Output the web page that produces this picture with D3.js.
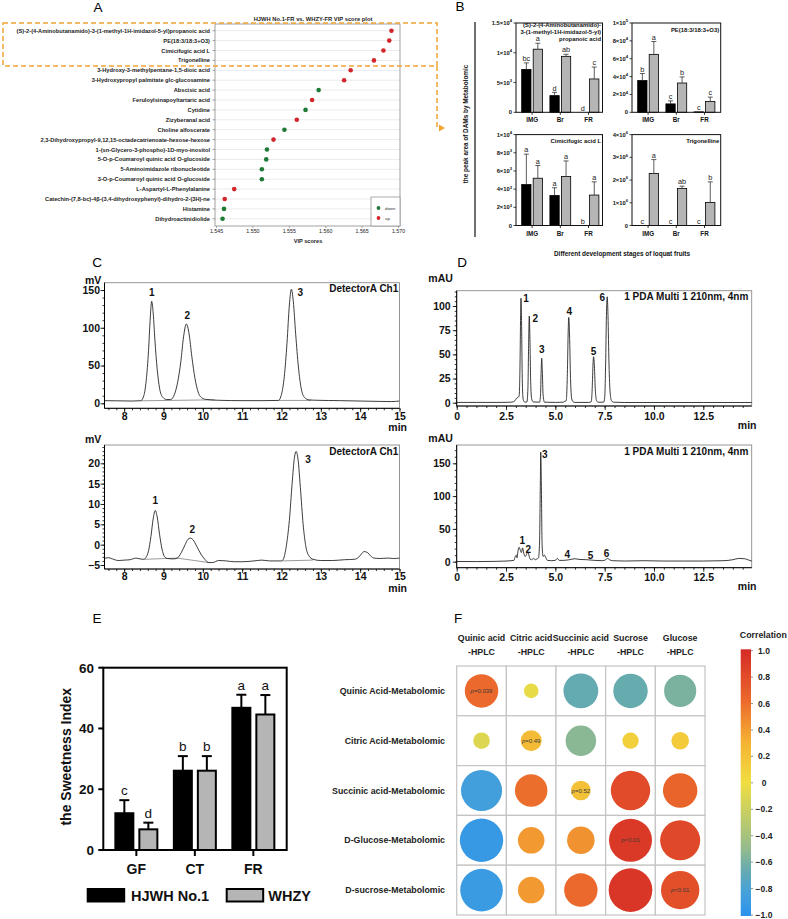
<!DOCTYPE html>
<html><head><meta charset="utf-8">
<script src="https://cdn.jsdelivr.net/npm/d3@7"></script>
<style>
body{margin:0;background:#fff}
svg{display:block}
text{font-family:"Liberation Sans",Arial,Helvetica,sans-serif}
</style>
</head><body>
<svg id="c" width="788" height="919"></svg>
<script>
// ================= DATA =================
// Panel A: VIP score plot
const vipNames = ["(S)-2-(4-Aminobutanamido)-3-(1-methyl-1H-imidazol-5-yl)propanoic acid","PE(18:3/18:3+O3)","Cimicifugic acid L","Trigonelline","3-Hydroxy-3-methylpentane-1,5-dioic acid","3-Hydroxypropyl palmitate glc-glucosamine","Abscisic acid","Feruloylsinapoyltartaric acid","Cytidine","Zizyberanal acid","Choline alfoscerate","2,3-Dihydroxypropyl-9,12,15-octadecatrienoate-hexose-hexose","1-(sn-Glycero-3-phospho)-1D-myo-inositol","5-O-p-Coumaroyl quinic acid O-glucoside","5-Aminoimidazole ribonucleotide","3-O-p-Coumaroyl quinic acid O-glucoside","L-Aspartyl-L-Phenylalanine","Catechin-(7,8-bc)-4β-(3,4-dihydroxyphenyl)-dihydro-2-(3H)-ne","Histamine","Dihydroactinidiolide"];
const vipScores = [1.5691,1.5688,1.5680,1.5667,1.5635,1.5626,1.5591,1.5582,1.5573,1.5561,1.5544,1.5529,1.5520,1.5519,1.5513,1.5513,1.5475,1.5462,1.5461,1.5459];
const vipRegulation = ["up","up","up","up","up","up","down","up","down","up","down","up","down","down","down","down","up","up","down","down"];
const vipTicks = [1.545,1.550,1.555,1.560,1.565,1.570];
const vipTitle = "HJWH No.1-FR vs. WHZY-FR VIP score plot";

// Panel B: peak areas
const bStages = ["IMG","Br","FR"];
const bTitles = [["(S)-2-(4-Aminobutanamido)-","3-(1-methyl-1H-imidazol-5-yl)","propanoic acid"],["PE(18:3/18:3+O3)"],["Cimicifugic acid L"],["Trigonelline"]];
const bHJWHMean = [[7200,2800,0],[35500,9400,500],[4500,3300,0],[0,0,0]];
const bHJWHErr  = [[1100,550,0],[7900,3400,0],[3350,850,0],[0,0,0]];
const bWHZYMean = [[10600,9400,5600],[64900,32800,12000],[5200,5400,3350],[2290000,1630000,1010000]];
const bWHZYErr  = [[1000,350,2000],[14400,6800,5000],[1400,1700,1450],[610000,100000,910000]];
const bHJWHLetters = [["bc","d","d"],["b","c","c"],["a","a","b"],["c","c","c"]];
const bWHZYLetters = [["a","ab","c"],["a","b","c"],["a","a","a"],["a","ab","b"]];
const bTickValues = [[0,5000,10000,15000],[0,20000,40000,60000,80000,100000],[0,2000,4000,6000,8000,10000],[0,1e6,2e6,3e6,4e6]];
const bTickLabels = [["0","5×10^3","1×10^4","1.5×10^4"],["0","2×10^4","4×10^4","6×10^4","8×10^4","1×10^5"],["0","2×10^3","4×10^3","6×10^3","8×10^3","1×10^4"],["0","1×10^6","2×10^6","3×10^6","4×10^6"]];
const bYLabel = "the peak area of DAMs by Metabolomic";
const bXLabel = "Different development stages of  loquat fruits";

// Panel C: HPLC chromatograms (mV vs min)
const cTopTrace = [[7.5,3.5],[7.8,3.3],[8.2,3.0],[8.42,3.4],[8.5,10],[8.56,30],[8.62,70],[8.66,110],[8.70,135],[8.74,118],[8.78,85],[8.84,45],[8.90,20],[8.98,8],[9.08,5],[9.18,5],[9.28,12],[9.36,28],[9.44,55],[9.51,88],[9.58,105],[9.65,92],[9.72,62],[9.80,33],[9.88,15],[9.98,7],[10.1,5],[10.4,4],[11.0,3.5],[11.5,3.5],[11.92,3.8],[12.0,12],[12.07,35],[12.14,80],[12.20,130],[12.25,151],[12.30,135],[12.36,92],[12.43,48],[12.50,20],[12.58,8],[12.7,4.5],[12.9,4],[13.5,3.5],[14.0,3],[14.5,2.5],[14.8,2.3],[15.0,3]];
const cTopBaselines = [[[8.42,3.3],[10.3,4.6]],[[11.92,3.8],[12.75,3.8]]];
const cTopPeakTimes = [8.70,9.58,12.25];
const cBotTrace = [[7.5,-3.4],[7.6,-3.2],[7.7,-3.5],[7.85,-3.9],[8.0,-3.8],[8.15,-3.7],[8.3,-3.3],[8.4,-3.5],[8.5,-3.6],[8.55,-3.2],[8.62,-1.5],[8.68,2],[8.74,6.5],[8.79,8.4],[8.84,6.8],[8.90,2.5],[8.96,-1],[9.03,-3],[9.1,-3.4],[9.25,-3.5],[9.35,-3.3],[9.45,-2],[9.55,0],[9.62,1.3],[9.68,1.6],[9.75,1.2],[9.85,-0.5],[9.95,-2.3],[10.05,-3.6],[10.15,-4.4],[10.25,-4.4],[10.4,-3.9],[10.6,-4.0],[10.8,-4.2],[11.0,-4.2],[11.3,-4.0],[11.5,-3.8],[11.7,-4.0],[12.0,-4.0],[12.05,-3.5],[12.12,-0.5],[12.2,6],[12.27,15],[12.33,21.5],[12.37,22.9],[12.42,21],[12.48,14],[12.55,5],[12.62,-0.5],[12.7,-2.8],[12.8,-3.6],[13.0,-3.9],[13.3,-3.9],[13.6,-3.7],[13.85,-3.6],[13.95,-3.2],[14.03,-2.3],[14.1,-1.7],[14.18,-1.9],[14.27,-2.8],[14.35,-3.3],[14.5,-3.4],[14.7,-3.3],[14.85,-3.4],[15.0,-3.3]];
const cBotBaselines = [[[8.52,-3.6],[9.35,-3.3],[10.15,-4.4]],[[12.02,-4.0],[12.8,-3.8]]];
const cBotPeakTimes = [8.79,9.68,12.37];
const cPeakNames = ["1","2","3"];
const cXTicks = [8,9,10,11,12,13,14,15];
const cTopYTicks = [0,50,100,150];
const cBotYTicks = [-5,0,5,10,15,20];

// Panel D: HPLC chromatograms (mAU vs min)
const dTopTrace = [[0,0.3],[1,0.3],[2,0.3],[2.6,0.4],[2.8,0.6],[2.95,2],[3.05,5],[3.12,5.5],[3.17,8],[3.21,40],[3.24,90],[3.26,108],[3.29,80],[3.32,30],[3.36,5],[3.42,1],[3.5,0.5],[3.56,0.8],[3.61,15],[3.65,65],[3.68,89.6],[3.71,68],[3.75,22],[3.8,4],[3.88,0.8],[4.2,0.5],[4.25,8],[4.28,32],[4.31,45.9],[4.34,33],[4.38,8],[4.45,0.5],[5.0,0.3],[5.4,0.5],[5.48,1.5],[5.55,2],[5.61,30],[5.65,72],[5.68,88.2],[5.72,70],[5.77,25],[5.83,4],[5.9,1],[6.0,0.3],[6.7,0.3],[6.82,1],[6.87,15],[6.91,40],[6.94,47.5],[6.98,38],[7.03,12],[7.1,1.5],[7.2,0.5],[7.45,0.5],[7.5,5],[7.55,40],[7.59,90],[7.63,109.5],[7.67,90],[7.72,40],[7.78,10],[7.85,2],[7.95,0.5],[8.5,0.2],[10,0.2],[12.5,0.2],[15,0.2]];
const dTopLabelTimes = [3.26,3.68,4.31,5.68,6.94,7.63];
const dBotTrace = [[0,0.3],[1.0,0.2],[2.0,0.5],[2.5,1],[2.9,2],[2.97,8],[3.02,10],[3.06,6],[3.1,15],[3.16,22],[3.22,18],[3.28,14],[3.34,21],[3.4,13],[3.47,8],[3.54,11],[3.6,15],[3.66,10],[3.72,4],[3.8,3],[3.9,5],[3.98,3],[4.05,4],[4.15,6],[4.2,30],[4.24,120],[4.26,167],[4.29,120],[4.33,25],[4.38,8],[4.45,10],[4.52,6],[4.6,2],[4.8,1.5],[5.0,2],[5.1,5],[5.2,2],[5.4,2],[5.7,3],[6.0,4.5],[6.2,3.5],[6.6,3],[7.0,2],[7.4,1.5],[7.55,3],[7.65,5],[7.75,3],[7.9,1.5],[8.5,1],[9.5,1.5],[10.5,1],[11.5,1],[12.5,1],[13.5,1.5],[14.0,3],[14.3,5],[14.6,4.5],[14.8,2.5],[15.0,0.5]];
const dBotLabelTimes = [3.32,3.63,4.26,5.6,6.79,7.6];
const dPeakNames = ["1","2","3","4","5","6"];
const dXTicks = [0,2.5,5,7.5,10,12.5];
const dTopYTicks = [0,25,50,75,100];
const dBotYTicks = [0,50,100,150];

// Panel E: sweetness index
const eStages = ["GF","CT","FR"];
const eHJWH = [12.1,26.1,46.8];
const eHJWHErr = [4.3,4.8,4.3];
const eWHZY = [6.8,26.1,44.6];
const eWHZYErr = [2.2,4.8,6.4];
const eHJWHLetters = ["c","b","a"];
const eWHZYLetters = ["d","b","a"];
const eYTicks = [0,20,40,60];
const eSeries = ["HJWH No.1","WHZY"];

// Panel F: correlation
const fColNames = ["Quinic acid","Citric acid","Succinic acid","Sucrose","Glucose"];
const fRowNames = ["Quinic Acid-Metabolomic","Citric Acid-Metabolomic","Succinic acid-Metabolomic","D-Glucose-Metabolomic","D-sucrose-Metabolomic"];
const fCorr = [[0.62,-0.05,-0.66,-0.65,-0.58],[-0.11,0.24,-0.53,0.1,0.14],[-0.85,0.59,0.2,0.8,0.65],[-0.92,0.41,0.44,0.91,0.82],[-0.9,0.41,0.62,0.93,0.77]];
const fPText = [["p=0.039","","","",""],["","p=0.49","","",""],["","","p=0.52","",""],["","","","p<0.01",""],["","","","","p<0.01"]];
const fColorTicks = [1.0,0.8,0.6,0.4,0.2,0,-0.2,-0.4,-0.6,-0.8,-1.0];

// ================= DRAWING =================
const svg = d3.select("#c");
const defs = svg.append("defs");

function T(g, x, y, s, o = {}) {
  const t = g.append("text").attr("x", x).attr("y", y).text(s)
    .attr("font-size", o.size || 10)
    .attr("font-weight", o.bold ? "bold" : "normal")
    .attr("text-anchor", o.anchor || "start")
    .attr("fill", o.fill || "#000");
  if (o.italic) t.attr("font-style", "italic");
  if (o.rotate) t.attr("transform", `rotate(${o.rotate},${x},${y})`);
  return t;
}
function supText(g, x, y, s, size, anchor) {
  const t = g.append("text").attr("x", x).attr("y", y).attr("font-size", size)
    .attr("font-weight", "bold").attr("text-anchor", anchor).attr("fill", "#111");
  const p = s.split("^");
  t.append("tspan").text(p[0]);
  if (p[1]) t.append("tspan").attr("dy", -size * 0.45).attr("font-size", size * 0.72).text(p[1]);
  return t;
}

// panel letters
[["A",98,12],["B",460,11],["C",97,267],["D",462,267],["E",97,623],["F",458,623]].forEach(d =>
  T(svg, d[1], d[2], d[0], {size: 13.5, anchor: "middle"}));

// ---------- Panel A ----------
{
  const g = svg.append("g");
  const x = d3.scaleLinear().domain([1.545, 1.570]).range([216, 398]);
  const y = d3.scalePoint().domain(vipNames).range([30.7, 218.8]);
  const L = 215, R = 400, Tp = 24, B = 226;
  g.selectAll("line.grid").data(vipNames).join("line").attr("class", "grid")
    .attr("x1", L).attr("x2", R).attr("y1", d => y(d)).attr("y2", d => y(d))
    .attr("stroke", "#e2e2e2").attr("stroke-width", 0.7);
  g.append("rect").attr("x", L).attr("y", Tp).attr("width", R - L).attr("height", B - Tp)
    .attr("fill", "none").attr("stroke", "#8a8a8a").attr("stroke-width", 0.8);
  g.selectAll("line.tk").data(vipNames).join("line").attr("class", "tk")
    .attr("x1", L - 2.5).attr("x2", L).attr("y1", d => y(d)).attr("y2", d => y(d))
    .attr("stroke", "#666").attr("stroke-width", 0.6);
  g.selectAll("text.lab").data(vipNames).join("text").attr("class", "lab")
    .attr("x", L - 5).attr("y", d => y(d) + 2).attr("text-anchor", "end")
    .attr("font-size", 5.7).attr("font-weight", "bold").attr("fill", "#222").text(d => d);
  g.selectAll("circle").data(vipNames).join("circle")
    .attr("cx", (d, i) => x(vipScores[i])).attr("cy", d => y(d)).attr("r", 2.3)
    .attr("fill", (d, i) => vipRegulation[i] === "up" ? "#d3262c" : "#1e7a36");
  const ax = g.append("g").attr("transform", `translate(0,${B})`)
    .call(d3.axisBottom(x).tickValues(vipTicks).tickFormat(d3.format(".3f")).tickSize(2).tickSizeOuter(0).tickPadding(1.5));
  ax.select(".domain").remove();
  ax.selectAll("line").attr("stroke", "#777").attr("stroke-width", 0.6);
  ax.selectAll("text").attr("font-size", 5.3).attr("font-family", null).attr("fill", "#222");
  T(g, 308, 242.5, "VIP scores", {size: 5.6, bold: true, anchor: "middle", fill: "#222"});
  T(g, 313, 21, vipTitle, {size: 5.8, bold: true, anchor: "middle", fill: "#222"});
  // legend
  g.append("rect").attr("x", 371).attr("y", 197).attr("width", 29).attr("height", 29)
    .attr("fill", "#fff").attr("stroke", "#888").attr("stroke-width", 0.7);
  [["down", "#1e7a36", 208], ["up", "#d3262c", 218]].forEach(d => {
    g.append("circle").attr("cx", 378.5).attr("cy", d[2]).attr("r", 1.9).attr("fill", d[1]);
    T(g, 385, d[2] + 1.5, d[0], {size: 4.3, fill: "#333"});
  });
  // orange highlight
  const orange = "#f2a432";
  g.append("rect").attr("x", 3).attr("y", 23).attr("width", 434).attr("height", 43)
    .attr("fill", "none").attr("stroke", orange).attr("stroke-width", 1.5).attr("stroke-dasharray", "5,3");
  g.append("path").attr("d", "M437,66 V128 H440").attr("fill", "none")
    .attr("stroke", orange).attr("stroke-width", 1.5).attr("stroke-dasharray", "5,3");
  g.append("path").attr("d", "M439,124.5 L445,128 L439,131.5 Z").attr("fill", orange);
}

// ---------- Panel B ----------
{
  const g = svg.append("g");
  const frames = [
    {L: 516, R: 602.5, y0: 112.3, yTop: 23},
    {L: 632, R: 720.7, y0: 112.3, yTop: 23},
    {L: 516, R: 602.5, y0: 225.5, yTop: 134.6},
    {L: 632, R: 720.7, y0: 225.5, yTop: 134.6}
  ];
  g.append("line").attr("x1", 475).attr("x2", 475).attr("y1", 22).attr("y2", 237)
    .attr("stroke", "#111").attr("stroke-width", 1.2);
  T(g, 467.6, 124, bYLabel, {size: 6.4, bold: true, anchor: "middle", rotate: -90, fill: "#111"});
  T(g, 622, 255.5, bXLabel, {size: 6.4, bold: true, anchor: "middle", fill: "#111"});
  frames.forEach((f, k) => {
    const ticks = bTickValues[k];
    const y = d3.scaleLinear().domain([0, ticks[ticks.length - 1]]).range([f.y0, f.yTop]);
    const x = d3.scaleBand().domain(bStages).range([f.L + 2, f.L + 2 + 3 * 28.2]);
    const bw = 9.3;
    // titles
    const tl = bTitles[k];
    const startY = tl.length > 1 ? f.yTop + 3.6 : f.yTop + (k < 2 ? 8.8 : 8.2);
    tl.forEach((line, j) => T(g, f.R - 1.5, startY + j * 7.0, line, {size: 5.9, bold: true, anchor: "end", fill: "#111"}));
    // bars
    bStages.forEach((s, i) => {
      const c = x(s) + x.bandwidth() / 2;
      const series = [
        {m: bHJWHMean[k][i], e: bHJWHErr[k][i], l: bHJWHLetters[k][i], x0: c - 1.1 - bw, fill: "#000"},
        {m: bWHZYMean[k][i], e: bWHZYErr[k][i], l: bWHZYLetters[k][i], x0: c + 1.1, fill: "#b5b5b5"}
      ];
      series.forEach(sr => {
        if (sr.m > 0) {
          g.append("rect").attr("x", sr.x0).attr("y", y(sr.m)).attr("width", bw)
            .attr("height", f.y0 - y(sr.m)).attr("fill", sr.fill).attr("stroke", "#000").attr("stroke-width", 0.8);
        }
        const bc = sr.x0 + bw / 2;
        if (sr.e > 0) {
          g.append("line").attr("x1", bc).attr("x2", bc).attr("y1", y(sr.m)).attr("y2", y(sr.m + sr.e))
            .attr("stroke", "#333").attr("stroke-width", 0.8);
          g.append("line").attr("x1", bc - 2.5).attr("x2", bc + 2.5).attr("y1", y(sr.m + sr.e)).attr("y2", y(sr.m + sr.e))
            .attr("stroke", "#333").attr("stroke-width", 0.8);
        }
        T(g, bc, y(sr.m + sr.e) - 1.8, sr.l, {size: 7.3, anchor: "middle", fill: "#222"});
      });
      g.append("line").attr("x1", c).attr("x2", c).attr("y1", f.y0).attr("y2", f.y0 + 2.5)
        .attr("stroke", "#000").attr("stroke-width", 0.8);
      T(g, c, f.y0 + 10, s, {size: 6.3, bold: true, anchor: "middle", fill: "#111"});
    });
    // frame
    g.append("rect").attr("x", f.L).attr("y", f.yTop).attr("width", f.R - f.L).attr("height", f.y0 - f.yTop)
      .attr("fill", "none").attr("stroke", "#111").attr("stroke-width", 1);
    // y ticks
    ticks.forEach((v, i) => {
      g.append("line").attr("x1", f.L - 2.5).attr("x2", f.L).attr("y1", y(v)).attr("y2", y(v))
        .attr("stroke", "#111").attr("stroke-width", 0.8);
      supText(g, f.L - 4, y(v) + 2, bTickLabels[k][i], 5.8, "end");
    });
  });
}

// ---------- Chromatograms (C, D) ----------
function valueAt(trace, t) {
  for (let i = 1; i < trace.length; i++) {
    if (trace[i][0] >= t) {
      const a = trace[i - 1], b = trace[i];
      return a[1] + (b[1] - a[1]) * (t - a[0]) / (b[0] - a[0]);
    }
  }
  return trace[trace.length - 1][1];
}
function chrom(cfg) {
  const g = svg.append("g");
  const x = d3.scaleLinear().domain(cfg.xd).range(cfg.xr);
  const y = d3.scaleLinear().domain(cfg.yd).range(cfg.yr);
  const {L, R, Tp, B} = cfg.frame;
  defs.append("clipPath").attr("id", cfg.id).append("rect")
    .attr("x", L).attr("y", Tp).attr("width", R - L).attr("height", B - Tp);
  g.append("rect").attr("x", L).attr("y", Tp).attr("width", R - L).attr("height", B - Tp)
    .attr("fill", "none").attr("stroke", "#8a8a8a").attr("stroke-width", 0.9);
  const line = d3.line().x(d => x(d[0])).y(d => y(d[1])).curve(d3.curveMonotoneX);
  const lineL = d3.line().x(d => x(d[0])).y(d => y(d[1]));
  (cfg.baselines || []).forEach(seg => g.append("path").attr("d", lineL(seg)).attr("fill", "none")
    .attr("stroke", "#555").attr("stroke-width", 0.6).attr("clip-path", `url(#${cfg.id})`));
  g.append("path").attr("d", line(cfg.trace)).attr("fill", "none").attr("stroke", "#1a1a1a")
    .attr("stroke-width", 0.85).attr("clip-path", `url(#${cfg.id})`);
  // axes lines
  g.append("line").attr("x1", L).attr("x2", L).attr("y1", Tp).attr("y2", B).attr("stroke", "#000").attr("stroke-width", 1);
  g.append("line").attr("x1", L).attr("x2", R).attr("y1", B).attr("y2", B).attr("stroke", "#000").attr("stroke-width", 1);
  const gx = g.append("g").attr("transform", `translate(0,${B})`)
    .call(d3.axisBottom(x).tickValues(cfg.xt).tickFormat(cfg.xf).tickSize(4).tickSizeOuter(0).tickPadding(cfg.xPad));
  const gxm = g.append("g").attr("transform", `translate(0,${B})`)
    .call(d3.axisBottom(x).tickValues(cfg.xMinor).tickFormat("").tickSize(2).tickSizeOuter(0));
  const gy = g.append("g").attr("transform", `translate(${L},0)`)
    .call(d3.axisLeft(y).tickValues(cfg.yt).tickFormat(d3.format("d")).tickSize(4).tickSizeOuter(0).tickPadding(cfg.yPad));
  const gym = g.append("g").attr("transform", `translate(${L},0)`)
    .call(d3.axisLeft(y).tickValues(cfg.yMinor).tickFormat("").tickSize(2).tickSizeOuter(0));
  [gx, gxm, gy, gym].forEach(a => {
    a.select(".domain").remove();
    a.selectAll("line").attr("stroke", "#000").attr("stroke-width", 0.8);
    a.selectAll("text").attr("font-size", 10.5).attr("font-weight", "bold").attr("font-family", null).attr("fill", "#111");
  });
  T(g, cfg.unit[1], cfg.unit[2], cfg.unit[0], {size: 10.5, bold: true, fill: "#111"});
  T(g, cfg.minX, B + 22.5, "min", {size: 10.5, bold: true, anchor: "end", fill: "#111"});
  T(g, cfg.titleX, Tp + 9.5, cfg.title, {size: 10, bold: true, anchor: "end", fill: "#111"});
  cfg.labelTimes.forEach((t, i) => {
    const v = valueAt(cfg.trace, t);
    T(g, x(t) + cfg.lab[i][0], y(v) + cfg.lab[i][1], cfg.names[i], {size: 10, bold: true, anchor: "middle", fill: "#111"});
  });
}
const range = (a, b, s) => d3.range(Math.round((b - a) / s) + 1).map(i => +(a + i * s).toFixed(3));
chrom({id: "cTop", xd: [7.5, 15], xr: [104.5, 399.5], yd: [0, 150], yr: [403.3, 290],
  frame: {L: 104.5, R: 399.5, Tp: 282.7, B: 408.3}, trace: cTopTrace, baselines: cTopBaselines,
  xt: cXTicks, xf: d3.format("d"), xMinor: range(7.6, 15, 0.2), xPad: 0,
  yt: cTopYTicks, yMinor: range(-0, 150, 10), yPad: 0.5,
  unit: ["mV", 85, 283.5], minX: 407, titleX: 398.3, title: "DetectorA Ch1",
  labelTimes: cTopPeakTimes, names: cPeakNames, lab: [[0, -5.5], [1, -4.5], [9, 7]]});
chrom({id: "cBot", xd: [7.5, 15], xr: [104.5, 399.5], yd: [-5, 20], yr: [565, 463.3],
  frame: {L: 104.5, R: 399.5, Tp: 445, B: 569}, trace: cBotTrace, baselines: cBotBaselines,
  xt: cXTicks, xf: d3.format("d"), xMinor: range(7.6, 15, 0.2), xPad: 0,
  yt: cBotYTicks, yMinor: range(-5, 24, 1), yPad: 0.5,
  unit: ["mV", 85, 442.5], minX: 407, titleX: 398.3, title: "DetectorA Ch1",
  labelTimes: cBotPeakTimes, names: cPeakNames, lab: [[0, -6.3], [2, -5], [12, 11.5]]});
chrom({id: "dTop", xd: [0, 15], xr: [456.7, 752.6], yd: [0, 100], yr: [402.7, 306],
  frame: {L: 456.7, R: 751.7, Tp: 290.7, B: 406}, trace: dTopTrace,
  xt: dXTicks, xf: d => d === 0 ? "0" : d3.format(".1f")(d), xMinor: range(0, 14.5, 0.5), xPad: 2.5,
  yt: dTopYTicks, yMinor: range(0, 115, 5), yPad: 2,
  unit: ["mAU", 428.3, 282], minX: 756.5, titleX: 748.3, title: "1 PDA Multi 1 210nm, 4nm",
  labelTimes: dTopLabelTimes, names: dPeakNames, lab: [[5, 4], [6, 6], [0, -5], [0.5, -2], [0, -2], [-5, 4]]});
chrom({id: "dBot", xd: [0, 15], xr: [456.7, 752.6], yd: [0, 150], yr: [561.7, 463.3],
  frame: {L: 456.7, R: 751.7, Tp: 445, B: 567.7}, trace: dBotTrace,
  xt: dXTicks, xf: d => d === 0 ? "0" : d3.format(".1f")(d), xMinor: range(0, 14.5, 0.5), xPad: 1.5,
  yt: dBotYTicks, yMinor: range(0, 170, 10), yPad: 2,
  unit: ["mAU", 428.3, 442], minX: 756.5, titleX: 748.3, title: "1 PDA Multi 1 210nm, 4nm",
  labelTimes: dBotLabelTimes, names: dPeakNames, lab: [[0, -5], [0, -1], [4, 5.5], [0, -1.5], [0, -1.5], [0, -2]]});

// ---------- Panel E ----------
{
  const g = svg.append("g");
  const L = 103.3, R = 286.7;
  const y = d3.scaleLinear().domain([0, 60]).range([850, 667.7]);
  const x = d3.scaleBand().domain(eStages).range([107.1, 282.6]);
  eStages.forEach((s, i) => {
    const c = x(s) + x.bandwidth() / 2;
    const sr = [
      {m: eHJWH[i], e: eHJWHErr[i], l: eHJWHLetters[i], x0: c - 21, fill: "#000"},
      {m: eWHZY[i], e: eWHZYErr[i], l: eWHZYLetters[i], x0: c + 3, fill: "#b5b5b5"}
    ];
    sr.forEach(d => {
      const bc = d.x0 + 9;
      g.append("line").attr("x1", bc).attr("x2", bc).attr("y1", y(d.m)).attr("y2", y(d.m + d.e)).attr("stroke", "#000").attr("stroke-width", 2);
      g.append("line").attr("x1", bc - 5).attr("x2", bc + 5).attr("y1", y(d.m + d.e)).attr("y2", y(d.m + d.e)).attr("stroke", "#000").attr("stroke-width", 2);
      g.append("rect").attr("x", d.x0).attr("y", y(d.m)).attr("width", 18).attr("height", 850 - y(d.m))
        .attr("fill", d.fill).attr("stroke", "#000").attr("stroke-width", 2);
      T(g, bc, y(d.m + d.e) - 5, d.l, {size: 13.5, anchor: "middle", fill: "#111"});
    });
    g.append("line").attr("x1", c).attr("x2", c).attr("y1", 850).attr("y2", 856).attr("stroke", "#000").attr("stroke-width", 2);
    T(g, c, 873.5, s, {size: 14, bold: true, anchor: "middle", fill: "#111"});
  });
  g.append("rect").attr("x", L).attr("y", 667.7).attr("width", R - L).attr("height", 850 - 667.7)
    .attr("fill", "none").attr("stroke", "#000").attr("stroke-width", 2);
  eYTicks.forEach(v => {
    g.append("line").attr("x1", L - 5).attr("x2", L).attr("y1", y(v)).attr("y2", y(v)).attr("stroke", "#000").attr("stroke-width", 2);
    T(g, 94, y(v) + 4.8, String(v), {size: 13.5, bold: true, anchor: "end", fill: "#111"});
  });
  T(g, 70.7, 756.7, "the Sweetness Index", {size: 14, bold: true, anchor: "middle", rotate: -90, fill: "#111"});
  [[87.7, "#000", 131, eSeries[0]], [226.7, "#b5b5b5", 268.3, eSeries[1]]].forEach(d => {
    g.append("rect").attr("x", d[0]).attr("y", 889).attr("width", 36.5).attr("height", 12.5)
      .attr("fill", d[1]).attr("stroke", "#000").attr("stroke-width", 2);
    T(g, d[2], 900.5, d[3], {size: 14.5, bold: true, fill: "#111"});
  });
}

// ---------- Panel F ----------
{
  const g = svg.append("g");
  const x = d3.scaleBand().domain(fColNames).range([456.7, 705]);
  const y = d3.scaleBand().domain(fRowNames).range([666, 915]);
  const color = d3.scaleLinear().domain([-1, -0.8, -0.65, -0.5, 0, 0.3, 0.6, 1])
    .range(["#2b93ee", "#4aa3d6", "#66abae", "#93bb8e", "#f0de40", "#f5b334", "#ec6c2c", "#d52a26"]);
  const rad = d3.scaleLinear().domain([0, 1]).range([6.5, 23]);
  fRowNames.forEach((rn, i) => {
    fColNames.forEach((cn, j) => {
      g.append("rect").attr("x", x(cn)).attr("y", y(rn)).attr("width", x.bandwidth()).attr("height", y.bandwidth())
        .attr("fill", "#fff").attr("stroke", "#c4c4c4").attr("stroke-width", 1.2);
    });
  });
  fRowNames.forEach((rn, i) => {
    const cy = y(rn) + y.bandwidth() / 2;
    fColNames.forEach((cn, j) => {
      const cx = x(cn) + x.bandwidth() / 2;
      const r = fCorr[i][j];
      g.append("circle").attr("cx", cx).attr("cy", cy).attr("r", rad(Math.abs(r))).attr("fill", color(r));
      if (fPText[i][j]) {
        const t = g.append("text").attr("x", cx).attr("y", cy + 2).attr("text-anchor", "middle")
          .attr("font-size", 6).attr("fill", "#3a3a3a");
        t.append("tspan").attr("font-style", "italic").text(fPText[i][j][0]);
        t.append("tspan").text(fPText[i][j].slice(1));
      }
    });
    T(g, 445, cy + 3, rn, {size: 8.8, bold: true, anchor: "end", fill: "#222"});
  });
  fColNames.forEach(cn => {
    const cx = x(cn) + x.bandwidth() / 2;
    T(g, cx, 641.3, cn, {size: 8.8, bold: true, anchor: "middle", fill: "#222"});
    T(g, cx, 655.3, "-HPLC", {size: 8.8, bold: true, anchor: "middle", fill: "#222"});
  });
  // colorbar
  const grad = defs.append("linearGradient").attr("id", "cbar").attr("x1", 0).attr("x2", 0).attr("y1", 1).attr("y2", 0);
  d3.range(0, 21).forEach(i => {
    const v = -1 + i * 0.1;
    grad.append("stop").attr("offset", (i / 20)).attr("stop-color", color(v));
  });
  const cy = d3.scaleLinear().domain([-1, 1]).range([915, 650.7]);
  g.append("rect").attr("x", 740.7).attr("y", 649.3).attr("width", 10.3).attr("height", 916 - 649.3).attr("fill", "url(#cbar)");
  fColorTicks.forEach(v => {
    g.append("line").attr("x1", 751).attr("x2", 753).attr("y1", cy(v)).attr("y2", cy(v)).attr("stroke", "#666").attr("stroke-width", 0.7);
    T(g, 764, cy(v) + 3, v === 0 ? "0" : d3.format(".1f")(v), {size: 8.5, bold: true, anchor: "middle", fill: "#222"});
  });
  T(g, 763.3, 638, "Correlation", {size: 8.8, bold: true, anchor: "middle", fill: "#222"});
}
</script>
</body></html>
